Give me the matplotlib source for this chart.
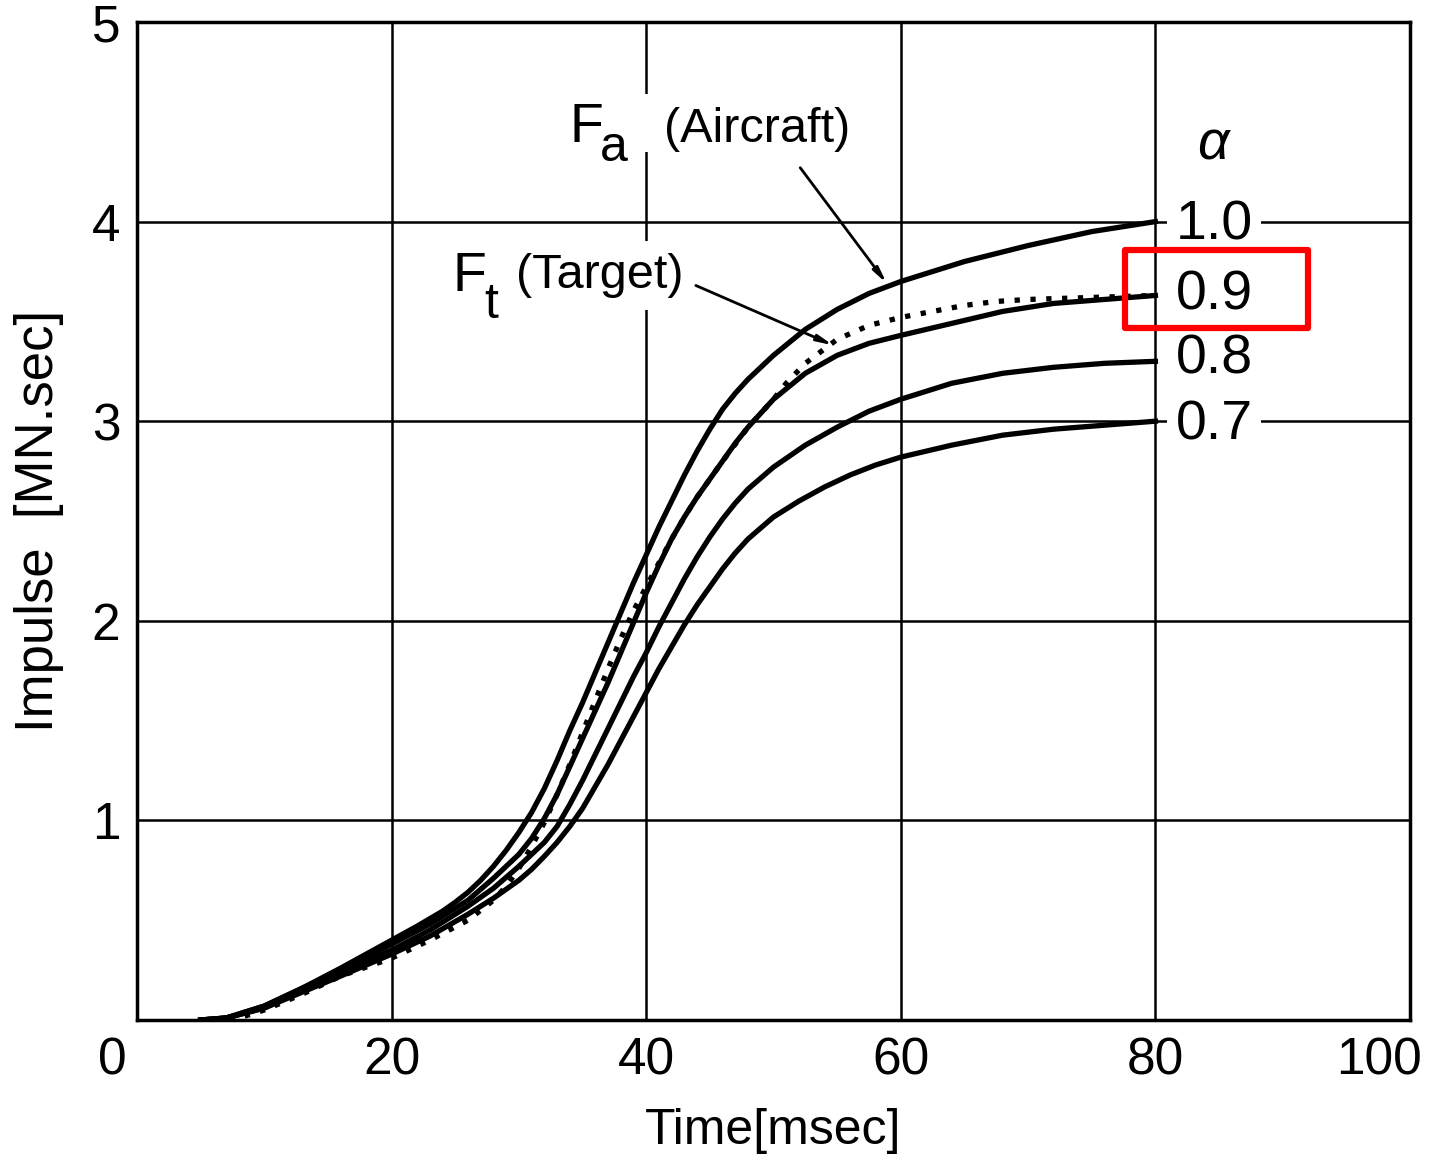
import matplotlib
matplotlib.use('Agg')
import matplotlib.pyplot as plt
from matplotlib.patches import Rectangle
from matplotlib.transforms import ScaledTranslation

plt.rcParams['font.family'] = ['Liberation Sans', 'DejaVu Sans']

# Impulse curves (time in msec, impulse in MN.sec)
t_a10 = [5, 7, 10, 13, 16, 20, 22, 24, 25, 26, 27, 28, 29, 30, 31, 32, 33, 34, 35, 36, 37, 38,
         39, 40, 41, 42, 43, 44, 45, 46, 47, 48, 50, 52.5, 55, 57.5, 60, 65, 70, 75, 80]
imp_a10 = [0, 0.01, 0.07, 0.16, 0.26, 0.40, 0.47, 0.545, 0.59, 0.64, 0.70, 0.77, 0.85, 0.94,
           1.04, 1.16, 1.30, 1.45, 1.59, 1.74, 1.89, 2.04, 2.19, 2.33, 2.47, 2.60, 2.73, 2.85,
           2.96, 3.06, 3.14, 3.21, 3.33, 3.46, 3.56, 3.64, 3.70, 3.80, 3.88, 3.95, 4.00]

t_a09 = [5, 7, 10, 13, 16, 20, 23, 26, 28, 30, 31, 32, 33, 34, 35, 36, 37, 38, 39, 40,
         41, 42, 43, 44, 45, 46, 47, 48, 50, 52.5, 55, 57.5, 60, 64, 68, 72, 76, 80]
imp_a09 = [0, 0.01, 0.07, 0.16, 0.25, 0.38, 0.48, 0.60, 0.71, 0.83, 0.91, 1.01, 1.13, 1.27, 1.41,
           1.55, 1.69, 1.84, 1.99, 2.14, 2.28, 2.41, 2.52, 2.62, 2.71, 2.80, 2.89, 2.97, 3.11,
           3.24, 3.33, 3.39, 3.43, 3.49, 3.55, 3.59, 3.61, 3.63]

t_a08 = [5, 7, 10, 13, 16, 20, 23, 26, 28, 30, 32, 33, 34, 35, 36, 37, 38, 39, 40, 41,
         42, 43, 44, 45, 46, 47, 48, 50, 52.5, 55, 57.5, 60, 64, 68, 72, 76, 80]
imp_a08 = [0, 0.01, 0.06, 0.15, 0.24, 0.35, 0.45, 0.57, 0.66, 0.77, 0.89, 0.97, 1.08, 1.20, 1.33,
           1.46, 1.59, 1.72, 1.84, 1.97, 2.09, 2.21, 2.32, 2.42, 2.51, 2.59, 2.66, 2.77, 2.88,
           2.97, 3.05, 3.11, 3.19, 3.24, 3.27, 3.29, 3.30]

t_a07 = [5, 7, 10, 13, 16, 20, 23, 26, 28, 29, 30, 31, 32, 33, 34, 35, 36, 37, 38, 39, 40, 41,
         42, 43, 44, 45, 46, 47, 48, 50, 52, 54, 56, 58, 60, 64, 68, 72, 76, 80]
imp_a07 = [0, 0.01, 0.06, 0.14, 0.22, 0.33, 0.42, 0.53, 0.61, 0.655, 0.70, 0.755, 0.82, 0.89,
           0.97, 1.06, 1.17, 1.28, 1.40, 1.52, 1.64, 1.76, 1.87, 1.98, 2.08, 2.17, 2.26, 2.34,
           2.41, 2.52, 2.60, 2.67, 2.73, 2.78, 2.82, 2.88, 2.93, 2.96, 2.98, 3.00]

# target impulse Ft (dotted)
t_target = [6, 8, 10, 13, 16, 20, 23, 26, 28, 29, 30, 31, 32, 33, 34, 35, 36, 37, 38, 39,
            40, 41, 42, 43, 44, 46, 48, 50, 51, 52.5, 55, 57.5, 60, 62.5, 65, 67.5, 70, 75, 80]
imp_target = [0, 0.01, 0.05, 0.13, 0.22, 0.31, 0.40, 0.50, 0.60, 0.67, 0.76, 0.87, 0.99, 1.13,
              1.28, 1.44, 1.60, 1.76, 1.91, 2.05, 2.17, 2.29, 2.41, 2.52, 2.62, 2.80, 2.97, 3.11,
              3.19, 3.29, 3.41, 3.48, 3.52, 3.55, 3.58, 3.60, 3.61, 3.62, 3.63]

alpha_labels = ['1.0', '0.9', '0.8', '0.7']
alpha_label_y = [3.98, 3.63, 3.31, 2.98]

x_ticks = [0, 20, 40, 60, 80, 100]
y_ticks = [1, 2, 3, 4, 5]

fig = plt.figure(figsize=(14.32, 11.68), dpi=100)
ax = fig.add_axes([137/1432, 148/1168, 1273/1432, 998/1168])

ax.set_xlim(0, 100)
ax.set_ylim(0, 5)
ax.set_xticks(x_ticks)
ax.set_yticks(y_ticks)
ax.tick_params(length=0, labelsize=37, pad=12)
ax.grid(True, color='black', lw=1.8)
ax.set_axisbelow(True)
for s in ax.spines.values():
    s.set_linewidth(2.5)

# the corner "0" and the "100" sit a bit to the left in the original
labs = ax.get_xticklabels()
labs[0].set_transform(labs[0].get_transform() + ScaledTranslation(-0.25, 0, fig.dpi_scale_trans))
labs[-1].set_transform(labs[-1].get_transform() + ScaledTranslation(-0.31, 0, fig.dpi_scale_trans))

ax.set_xlabel('Time[msec]', fontsize=36, labelpad=16)
ax.set_ylabel('Impulse  [MN.sec]', fontsize=38, labelpad=20)

lw = 3.8
ax.plot(t_a10, imp_a10, color='black', lw=lw, zorder=3)
ax.plot(t_a09, imp_a09, color='black', lw=lw, zorder=3)
ax.plot(t_a08, imp_a08, color='black', lw=lw, zorder=3)
ax.plot(t_a07, imp_a07, color='black', lw=lw, zorder=3)
ax.plot(t_target, imp_target, color='black', lw=3.8, linestyle=(0, (1, 2)), zorder=4)

# alpha labels at the curve ends
box = dict(boxstyle='square,pad=0.15', fc='white', ec='none')
ax.text(84.5, 4.38, 'α', fontsize=40, style='italic', ha='center', va='center', zorder=5)
for lab, yy in zip(alpha_labels, alpha_label_y):
    ax.text(81.6, yy, lab, fontsize=40, ha='left', va='center', bbox=box, zorder=5)

# annotations
ax.text(34.0, 4.47, 'F', fontsize=40, ha='left', va='center', zorder=5)
ax.text(36.4, 4.37, 'a', fontsize=36, ha='left', va='center', zorder=5)
ax.text(41.4, 4.46, '(Aircraft)', fontsize=35, ha='left', va='center', zorder=5)
ax.add_patch(Rectangle((39.4, 4.35), 1.2, 0.29, fc='white', ec='none', zorder=1))
ax.text(24.8, 3.72, 'F', fontsize=40, ha='left', va='center', zorder=5)
ax.text(27.3, 3.58, 't', fontsize=36, ha='left', va='center', zorder=5)
ax.text(29.8, 3.73, '(Target)', fontsize=35, ha='left', va='center', zorder=5,
        bbox=dict(boxstyle='square,pad=0.25', fc='white', ec='none'))

arrow = dict(arrowstyle='-|>,head_length=0.9,head_width=0.18', color='black', lw=2,
             shrinkA=0, shrinkB=0)
ax.annotate('', xy=(58.9, 3.69), xytext=(52.1, 4.27), arrowprops=arrow, zorder=5)
ax.annotate('', xy=(54.7, 3.38), xytext=(43.9, 3.68), arrowprops=arrow, zorder=5)

# red highlight box around the 0.9 label
fig.patches.append(Rectangle((1125/1432, (1168-328)/1168), 183/1432, 78/1168,
                             transform=fig.transFigure, fill=False, ec='#ff0000', lw=4.5,
                             joinstyle='round', zorder=10))

fig.savefig('out.png', dpi=100)
